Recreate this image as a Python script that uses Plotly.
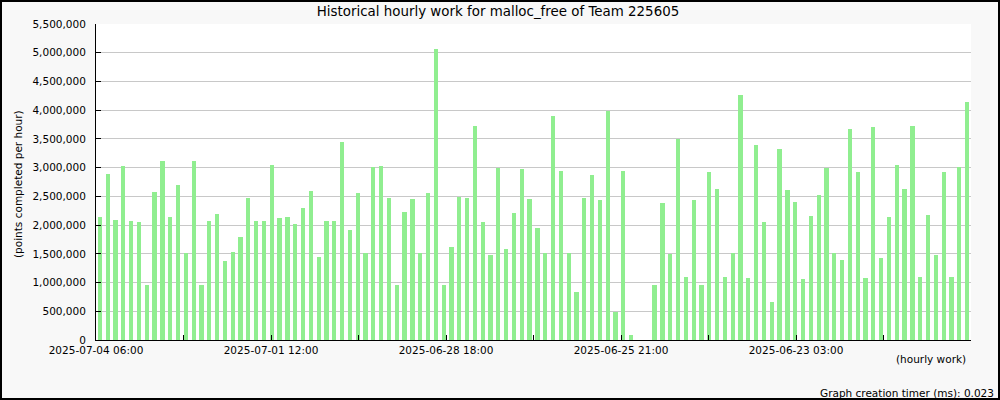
import plotly.graph_objects as go

# hourly points (thousands), newest first
points_k = [2143, 2892, 2091, 3031, 2073, 2056, 958, 2578, 3118, 2143, 2700, 1516, 3118, 958, 2073, 2195, 1376, 1533, 1794, 2474, 2073, 2073, 3049, 2125, 2143,
            2021, 2300, 2596, 1446, 2073, 2073, 3449, 1916, 2561, 1516, 3014, 3031, 2474, 958, 2230, 2456, 1516, 2561, 5070, 958, 1620, 2491, 2474, 3728, 2056, 1481, 2997, 1585, 2213,
            2979, 2456, 1951, 1516, 3902, 2944, 1516, 836, 2474, 2875, 2439, 3990, 488, 2944, 87, 0, 0, 958, 2387, 1498, 3502, 1098, 2439, 958, 2927, 2631, 1098, 1516, 4268, 1080,
            3397, 2056, 662, 3328, 2613, 2404, 1063, 2160, 2526, 2997, 1516, 1394, 3676, 2927, 1080, 3711, 1429, 2143, 3049, 2631, 3728, 1098, 2178, 1481, 2927, 1098, 3014, 4146]
points = [v * 1000 for v in points_k]

tick_labels = ["2025-07-04 06:00", "", "2025-07-01 12:00", "", "2025-06-28 18:00", "",
               "2025-06-25 21:00", "", "2025-06-23 03:00", ""]

n = len(points)
xs = [i + 0.5 for i in range(n)]
step = n / 10
tickvals = [k * step for k in range(len(tick_labels))]

FONT = "DejaVu Sans"

fig = go.Figure()
fig.add_trace(go.Bar(x=xs, y=points, width=0.55, marker=dict(color="#90ee90", line=dict(width=0))))

W, H = 1000, 400
L, R, T, B = 96, 29, 24, 60
pw, ph = W - L - R, H - T - B

fig.update_layout(
    width=W, height=H,
    margin=dict(l=L, r=R, t=T, b=B, pad=0),
    paper_bgcolor="#f8f8f8",
    plot_bgcolor="#ffffff",
    showlegend=False,
    bargap=0,
    font=dict(family=FONT, size=10.5, color="#000000"),
    title=dict(text="Historical hourly work for malloc_free of Team 225605",
               x=0.498, xref="container", xanchor="center",
               y=1 - 11 / H, yref="container", yanchor="middle",
               font=dict(family=FONT, size=13.4, color="#000000")),
    xaxis=dict(range=[0, n], tickmode="array", tickvals=tickvals, ticktext=tick_labels,
               ticks="inside", ticklen=5, tickcolor="#000000", tickwidth=1,
               showline=True, linecolor="#000000", linewidth=1,
               showgrid=False, zeroline=False, fixedrange=True,
               tickfont=dict(family=FONT, size=10.5, color="#000000")),
    yaxis=dict(range=[0, 5500000], dtick=500000, tick0=0, tickformat=",d",
               ticks="inside", ticklen=5, tickcolor="#000000", tickwidth=1,
               showline=True, linecolor="#000000", linewidth=1,
               showgrid=True, gridcolor="#c8c8c8", gridwidth=1,
               zeroline=False, fixedrange=True, ticklabelstandoff=7,
               tickfont=dict(family=FONT, size=10.5, color="#000000")),
)

# y axis title
fig.add_annotation(text="(points completed per hour)", xref="paper", yref="paper",
                   x=(18 - L) / pw, y=(H - B - 184) / ph, textangle=-90, showarrow=False,
                   xanchor="center", yanchor="middle", font=dict(family=FONT, size=10.5))
# x axis caption
fig.add_annotation(text="(hourly work)", xref="paper", yref="paper",
                   x=(968 - L) / pw, y=(H - B - 359) / ph, showarrow=False,
                   xanchor="right", yanchor="middle", font=dict(family=FONT, size=10.5))
# timer
fig.add_annotation(text="Graph creation timer (ms): 0.023", xref="paper", yref="paper",
                   x=(996 - L) / pw, y=(H - B - 393) / ph, showarrow=False,
                   xanchor="right", yanchor="middle", font=dict(family=FONT, size=10.5))
# outer border
fig.add_shape(type="rect", xref="paper", yref="paper",
              x0=(1 - L) / pw, x1=(999 - L) / pw,
              y0=(H - B - 399) / ph, y1=(H - B - 1) / ph,
              line=dict(color="#000000", width=2), fillcolor="rgba(0,0,0,0)", layer="above")

fig.write_html("out.html", config={"displayModeBar": False},
               post_script="document.body.style.margin='0';document.body.style.overflow='hidden';")
